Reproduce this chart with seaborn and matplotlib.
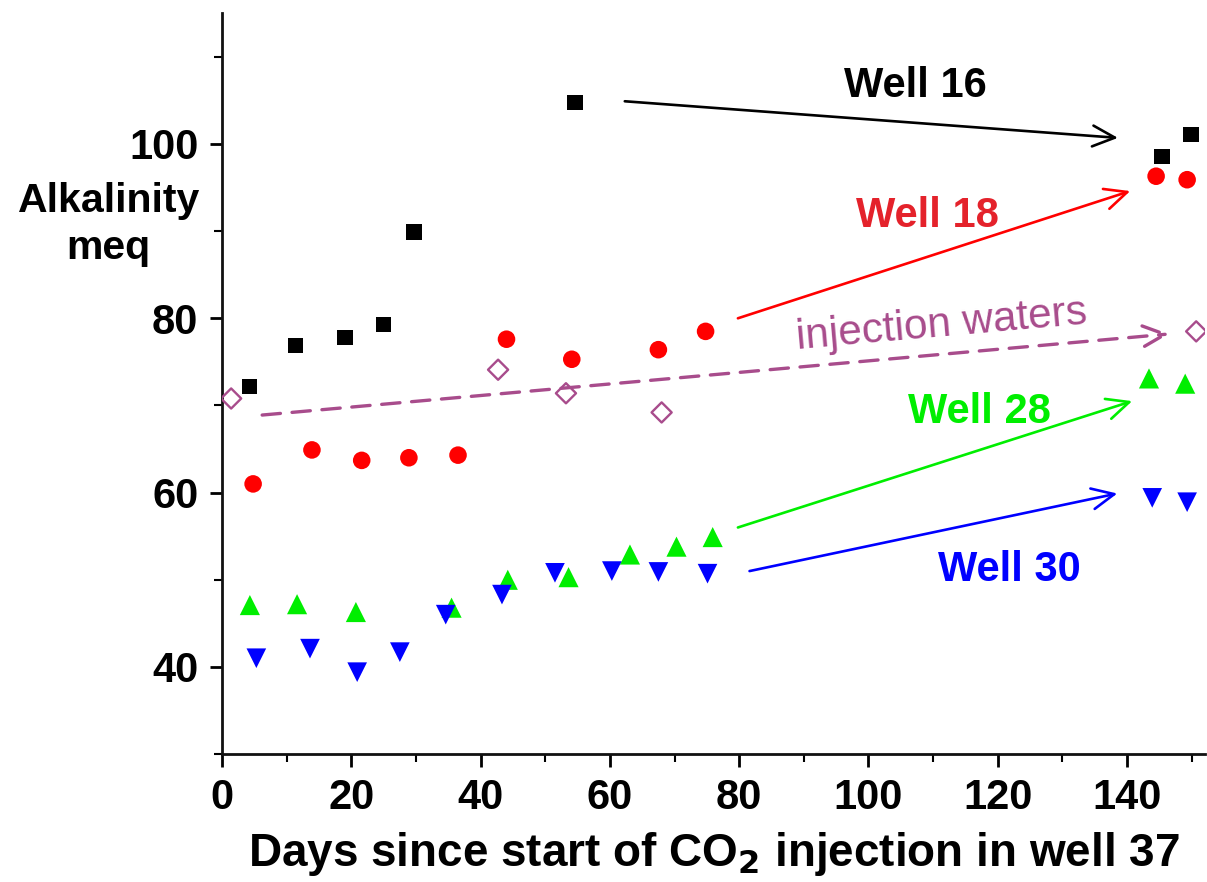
import matplotlib
matplotlib.use("Agg")
import matplotlib.pyplot as plt
from matplotlib.ticker import MultipleLocator
import seaborn as sns
import pandas as pd

# Alkalinity (meq) versus days since start of CO2 injection in well 37
well16_days = [4.3, 11.3, 19.0, 25.0, 29.7, 54.6, 145.4, 149.9]
well16_alk = [72.2, 76.9, 77.8, 79.3, 89.9, 104.8, 98.6, 101.1]

well18_days = [4.8, 13.9, 21.6, 28.9, 36.5, 44.0, 54.1, 67.5, 74.8, 144.5, 149.3]
well18_alk = [61.0, 64.9, 63.7, 64.0, 64.3, 77.6, 75.3, 76.4, 78.5, 96.3, 95.9]

inj_days = [1.4, 42.7, 53.2, 68.0, 150.7]
inj_alk = [70.8, 74.1, 71.4, 69.2, 78.5]

well28_days = [4.3, 11.6, 20.7, 35.5, 44.2, 53.6, 63.1, 70.3, 75.9, 143.4, 149.0]
well28_alk = [47.1, 47.2, 46.3, 46.8, 50.0, 50.3, 52.9, 53.8, 54.9, 73.1, 72.5]

well30_days = [5.3, 13.6, 20.9, 27.5, 34.6, 43.3, 51.5, 60.3, 67.5, 75.1, 143.9, 149.3]
well30_alk = [41.0, 42.1, 39.4, 41.7, 46.0, 48.3, 50.8, 51.0, 50.9, 50.7, 59.4, 58.9]

x_ticks = [0, 20, 40, 60, 80, 100, 120, 140]
y_ticks = [40, 60, 80, 100]

BLACK = "#000000"
RED = "#ff0000"
RED_TXT = "#e4222b"
GREEN = "#00ee00"
BLUE = "#0000ff"
PURPLE = "#a84c8c"

sns.set_style("ticks")
plt.rcParams["font.family"] = ["Liberation Sans", "DejaVu Sans"]
plt.rcParams["text.color"] = BLACK
plt.rcParams["xtick.color"] = BLACK
plt.rcParams["ytick.color"] = BLACK
plt.rcParams["axes.labelcolor"] = BLACK

fig = plt.figure(figsize=(12.07, 8.82), dpi=100)
ax = fig.add_axes([0.184, 0.145, 0.814, 0.840])

def frame(d, a):
    return pd.DataFrame({"days": d, "alk": a})

sns.scatterplot(data=frame(well16_days, well16_alk), x="days", y="alk", ax=ax,
                marker="s", s=120, color=BLACK, edgecolor="none", zorder=3)
sns.scatterplot(data=frame(well18_days, well18_alk), x="days", y="alk", ax=ax,
                marker="o", s=160, color=RED, edgecolor="none", zorder=3)
sns.scatterplot(data=frame(inj_days, inj_alk), x="days", y="alk", ax=ax,
                marker="D", s=105, facecolor="none", edgecolor=PURPLE,
                linewidth=1.7, zorder=3)
sns.scatterplot(data=frame(well28_days, well28_alk), x="days", y="alk", ax=ax,
                marker="^", s=210, color=GREEN, edgecolor="none", zorder=3)
sns.scatterplot(data=frame(well30_days, well30_alk), x="days", y="alk", ax=ax,
                marker="v", s=200, color=BLUE, edgecolor="none", zorder=4)

ax.set_xlim(0, 152)
ax.set_ylim(30, 115)
ax.set_xticks(x_ticks)
ax.xaxis.set_minor_locator(MultipleLocator(10))
ax.set_yticks(y_ticks)
ax.yaxis.set_minor_locator(MultipleLocator(10))
ax.tick_params(axis="both", which="major", direction="out", length=9, width=2,
               labelsize=30, pad=8, colors=BLACK)
ax.tick_params(axis="both", which="minor", direction="out", length=6, width=1.5,
               colors=BLACK)
for lab in ax.get_xticklabels() + ax.get_yticklabels():
    lab.set_fontweight("bold")
for side in ("top", "right"):
    ax.spines[side].set_visible(False)
for side in ("left", "bottom"):
    ax.spines[side].set_linewidth(2)
    ax.spines[side].set_color("#111111")

ax.set_xlabel("Days since start of CO$_\\mathbf{2}$ injection in well 37",
              fontsize=33, fontweight="bold", labelpad=9, color=BLACK)
ax.set_ylabel("")
fig.text(0.09, 0.745, "Alkalinity\nmeq", fontsize=29.5, fontweight="bold",
         ha="center", va="center", linespacing=1.3, color=BLACK)

# Arrows pointing from the early data to the late samples
def arrow(x0, y0, x1, y1, color, dashed=False):
    ax.annotate("", xy=(x1, y1), xytext=(x0, y0),
                arrowprops=dict(arrowstyle="->,head_length=1.6,head_width=0.75",
                                color=color, lw=2.4 if dashed else 1.9,
                                linestyle=(0, (5.5, 3.5)) if dashed else "-",
                                shrinkA=0, shrinkB=0), zorder=2)

arrow(62.3, 104.9, 138.6, 100.7, BLACK)
arrow(79.8, 80.0, 140.5, 94.6, RED)
arrow(6.2, 68.9, 146.5, 78.2, PURPLE, dashed=True)
arrow(79.8, 56.0, 140.8, 70.5, GREEN)
arrow(81.6, 51.0, 138.5, 59.9, BLUE)

ax.text(107.3, 106.7, "Well 16", color=BLACK, fontsize=30, fontweight="bold",
        ha="center", va="center")
ax.text(109.1, 91.7, "Well 18", color=RED_TXT, fontsize=30, fontweight="bold",
        ha="center", va="center")
ax.text(111.3, 79.2, "injection waters", color=PURPLE, fontsize=30.5,
        ha="center", va="center", rotation=5)
ax.text(117.2, 69.3, "Well 28", color=GREEN, fontsize=30, fontweight="bold",
        ha="center", va="center")
ax.text(121.8, 51.1, "Well 30", color=BLUE, fontsize=30, fontweight="bold",
        ha="center", va="center")

fig.savefig("out.png", dpi=100)
